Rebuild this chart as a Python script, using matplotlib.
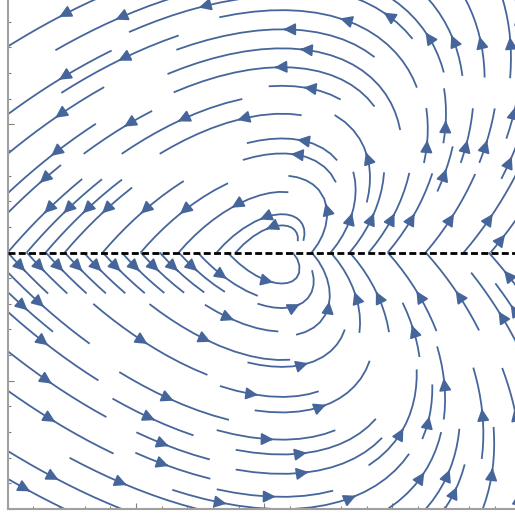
import numpy as np
import matplotlib.pyplot as plt

# piecewise linear field, switching line y = 0
x_range = [-1.0, 1.0]
y_range = [-1.0, 1.0]
fold_x = 0.07          # both half-fields vanish here on y = 0
upper_a = 0.85         # y > 0 : x' = a*(x - fold_x) - y,  y' = x - fold_x
lower_a = -0.9         # y < 0 : same form, contracting
line_color = "#46669b"

fig = plt.figure(figsize=(5.15, 5.18), dpi=100)
ax = fig.add_axes([7.7 / 515, 9 / 518, 513 / 515, 513 / 518])

xs = np.linspace(x_range[0], x_range[1], 200)

def half_field(a, y0, y1):
    ys = np.linspace(y0, y1, 100)
    X, Y = np.meshgrid(xs, ys)
    U = a * (X - fold_x) - Y
    V = X - fold_x
    return X, Y, U, V

# each half drawn on its own so lines stop at the switching line
for a, y0, y1 in [(upper_a, 0.0, y_range[1]), (lower_a, y_range[0], 0.0)]:
    X, Y, U, V = half_field(a, y0, y1)
    ax.streamplot(X, Y, U, V, density=(0.95, 0.48), color=line_color,
                  linewidth=1.3, arrowsize=1.8, maxlength=0.7, minlength=0.15)

ax.axhline(0, color="black", lw=2.0, dashes=(2.5, 1.2), zorder=5)

ax.set_xlim(x_range)
ax.set_ylim(y_range)
for s in ["top", "right"]:
    ax.spines[s].set_visible(False)
for s in ["left", "bottom"]:
    ax.spines[s].set_color("#a0a0a0")
    ax.spines[s].set_linewidth(1.5)
ax.set_xticks(np.arange(-1, 1.01, 0.5))
ax.set_yticks(np.arange(-1, 1.01, 0.5))
ax.set_xticks(np.arange(-1, 1.01, 0.1), minor=True)
ax.set_yticks(np.arange(-1, 1.01, 0.1), minor=True)
ax.tick_params(which="both", direction="in", color="#808080", width=0.8,
               labelbottom=False, labelleft=False)
ax.tick_params(which="major", length=4)
ax.tick_params(which="minor", length=2.5)

fig.savefig("out.png", dpi=100)
